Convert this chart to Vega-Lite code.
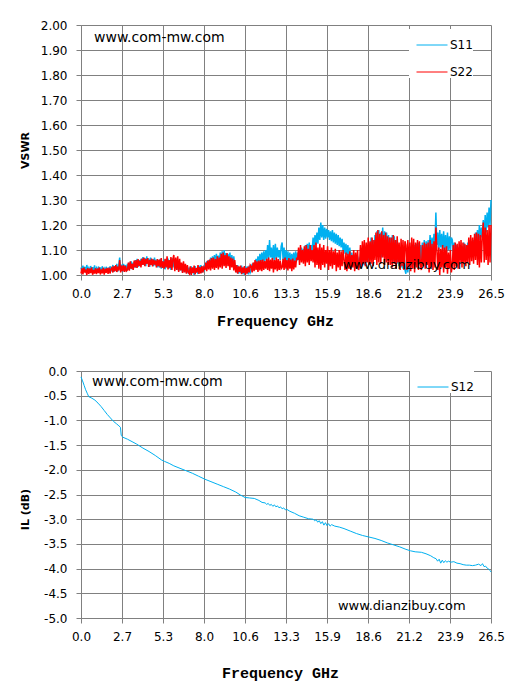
{
  "$schema": "https://vega.github.io/schema/vega-lite/v6.json",
  "background": "#ffffff",
  "padding": {"left": 19, "top": 19, "right": 5, "bottom": 5},
  "spacing": 37,
  "datasets": {
    "vswr": [
      {"f":0,"S11":1.03,"S22":1.006},{"f":0.0625,"S11":1.012,"S22":1.027},{"f":0.125,"S11":1.038,"S22":1.002},{"f":0.1875,"S11":1.015,"S22":1.03},
      {"f":0.25,"S11":1.033,"S22":1.01},{"f":0.3125,"S11":1.01,"S22":1.022},{"f":0.375,"S11":1.04,"S22":1.0},{"f":0.4375,"S11":1.018,"S22":1.028},
      {"f":0.5,"S11":1.028,"S22":1.004},{"f":0.5625,"S11":1.01,"S22":1.025},{"f":0.625,"S11":1.036,"S22":1.008},{"f":0.6875,"S11":1.014,"S22":1.03},
      {"f":0.75,"S11":1.031,"S22":1.001},{"f":0.8125,"S11":1.011,"S22":1.02},{"f":0.875,"S11":1.039,"S22":1.006},{"f":0.9375,"S11":1.016,"S22":1.027},
      {"f":1,"S11":1.027,"S22":1.003},{"f":1.0625,"S11":1.01,"S22":1.026},{"f":1.125,"S11":1.034,"S22":1.008},{"f":1.1875,"S11":1.015,"S22":1.03},
      {"f":1.25,"S11":1.03,"S22":1.002},{"f":1.3125,"S11":1.012,"S22":1.022},{"f":1.375,"S11":1.035,"S22":1.007},{"f":1.4375,"S11":1.017,"S22":1.029},
      {"f":1.5,"S11":1.026,"S22":1.001},{"f":1.5625,"S11":1.01,"S22":1.025},{"f":1.625,"S11":1.033,"S22":1.009},{"f":1.6875,"S11":1.014,"S22":1.028},
      {"f":1.75,"S11":1.029,"S22":1.004},{"f":1.8125,"S11":1.011,"S22":1.03},{"f":1.875,"S11":1.035,"S22":1.006},{"f":1.9375,"S11":1.016,"S22":1.024},
      {"f":2,"S11":1.02,"S22":1.03},{"f":2.0625,"S11":1.04,"S22":1.01},{"f":2.125,"S11":1.012,"S22":1.035},{"f":2.1875,"S11":1.036,"S22":1.015},
      {"f":2.25,"S11":1.018,"S22":1.04},{"f":2.3125,"S11":1.045,"S22":1.012},{"f":2.375,"S11":1.013,"S22":1.033},{"f":2.4375,"S11":1.038,"S22":1.018},
      {"f":2.5,"S11":1.07,"S22":1.06},{"f":2.5625,"S11":1.016,"S22":1.01},{"f":2.625,"S11":1.042,"S22":1.038},{"f":2.6875,"S11":1.012,"S22":1.014},
      {"f":2.75,"S11":1.045,"S22":1.04},{"f":2.8125,"S11":1.02,"S22":1.012},{"f":2.875,"S11":1.04,"S22":1.036},{"f":2.9375,"S11":1.014,"S22":1.016},
      {"f":3,"S11":1.045,"S22":1.02},{"f":3.0625,"S11":1.02,"S22":1.05},{"f":3.125,"S11":1.05,"S22":1.017},{"f":3.1875,"S11":1.025,"S22":1.055},
      {"f":3.25,"S11":1.055,"S22":1.025},{"f":3.3125,"S11":1.022,"S22":1.045},{"f":3.375,"S11":1.05,"S22":1.02},{"f":3.4375,"S11":1.03,"S22":1.058},
      {"f":3.5,"S11":1.06,"S22":1.03},{"f":3.5625,"S11":1.028,"S22":1.06},{"f":3.625,"S11":1.065,"S22":1.028},{"f":3.6875,"S11":1.032,"S22":1.064},
      {"f":3.75,"S11":1.06,"S22":1.035},{"f":3.8125,"S11":1.035,"S22":1.058},{"f":3.875,"S11":1.065,"S22":1.03},{"f":3.9375,"S11":1.04,"S22":1.066},
      {"f":4,"S11":1.072,"S22":1.04},{"f":4.0625,"S11":1.04,"S22":1.07},{"f":4.125,"S11":1.068,"S22":1.035},{"f":4.1875,"S11":1.035,"S22":1.064},
      {"f":4.25,"S11":1.075,"S22":1.045},{"f":4.3125,"S11":1.045,"S22":1.068},{"f":4.375,"S11":1.066,"S22":1.032},{"f":4.4375,"S11":1.032,"S22":1.06},
      {"f":4.5,"S11":1.07,"S22":1.04},{"f":4.5625,"S11":1.04,"S22":1.066},{"f":4.625,"S11":1.064,"S22":1.034},{"f":4.6875,"S11":1.035,"S22":1.062},
      {"f":4.75,"S11":1.07,"S22":1.042},{"f":4.8125,"S11":1.038,"S22":1.058},{"f":4.875,"S11":1.062,"S22":1.03},{"f":4.9375,"S11":1.03,"S22":1.064},
      {"f":5,"S11":1.06,"S22":1.035},{"f":5.0625,"S11":1.03,"S22":1.062},{"f":5.125,"S11":1.065,"S22":1.03},{"f":5.1875,"S11":1.025,"S22":1.068},
      {"f":5.25,"S11":1.055,"S22":1.028},{"f":5.3125,"S11":1.035,"S22":1.055},{"f":5.375,"S11":1.062,"S22":1.025},{"f":5.4375,"S11":1.022,"S22":1.065},
      {"f":5.5,"S11":1.058,"S22":1.03},{"f":5.5625,"S11":1.03,"S22":1.075},{"f":5.625,"S11":1.066,"S22":1.022},{"f":5.6875,"S11":1.025,"S22":1.06},
      {"f":5.75,"S11":1.06,"S22":1.028},{"f":5.8125,"S11":1.02,"S22":1.072},{"f":5.875,"S11":1.068,"S22":1.02},{"f":5.9375,"S11":1.03,"S22":1.064},
      {"f":6,"S11":1.065,"S22":1.08},{"f":6.0625,"S11":1.025,"S22":1.015},{"f":6.125,"S11":1.06,"S22":1.07},{"f":6.1875,"S11":1.02,"S22":1.02},
      {"f":6.25,"S11":1.058,"S22":1.075},{"f":6.3125,"S11":1.015,"S22":1.012},{"f":6.375,"S11":1.05,"S22":1.065},{"f":6.4375,"S11":1.018,"S22":1.018},
      {"f":6.5,"S11":1.045,"S22":1.05},{"f":6.5625,"S11":1.01,"S22":1.008},{"f":6.625,"S11":1.04,"S22":1.055},{"f":6.6875,"S11":1.012,"S22":1.01},
      {"f":6.75,"S11":1.038,"S22":1.045},{"f":6.8125,"S11":1.008,"S22":1.005},{"f":6.875,"S11":1.035,"S22":1.04},{"f":6.9375,"S11":1.005,"S22":1.01},
      {"f":7,"S11":1.03,"S22":1.005},{"f":7.0625,"S11":1.002,"S22":1.035},{"f":7.125,"S11":1.035,"S22":1.0},{"f":7.1875,"S11":1.008,"S22":1.03},
      {"f":7.25,"S11":1.028,"S22":1.008},{"f":7.3125,"S11":1.0,"S22":1.038},{"f":7.375,"S11":1.036,"S22":1.002},{"f":7.4375,"S11":1.01,"S22":1.028},
      {"f":7.5,"S11":1.025,"S22":1.01},{"f":7.5625,"S11":1.004,"S22":1.04},{"f":7.625,"S11":1.038,"S22":1.004},{"f":7.6875,"S11":1.012,"S22":1.032},
      {"f":7.75,"S11":1.04,"S22":1.006},{"f":7.8125,"S11":1.008,"S22":1.036},{"f":7.875,"S11":1.034,"S22":1.01},{"f":7.9375,"S11":1.015,"S22":1.03},
      {"f":8,"S11":1.045,"S22":1.02},{"f":8.0625,"S11":1.03,"S22":1.05},{"f":8.125,"S11":1.055,"S22":1.015},{"f":8.1875,"S11":1.032,"S22":1.058},
      {"f":8.25,"S11":1.06,"S22":1.022},{"f":8.3125,"S11":1.035,"S22":1.062},{"f":8.375,"S11":1.07,"S22":1.018},{"f":8.4375,"S11":1.04,"S22":1.068},
      {"f":8.5,"S11":1.075,"S22":1.025},{"f":8.5625,"S11":1.038,"S22":1.07},{"f":8.625,"S11":1.08,"S22":1.02},{"f":8.6875,"S11":1.045,"S22":1.064},
      {"f":8.75,"S11":1.085,"S22":1.028},{"f":8.8125,"S11":1.05,"S22":1.075},{"f":8.875,"S11":1.078,"S22":1.022},{"f":8.9375,"S11":1.042,"S22":1.07},
      {"f":9,"S11":1.09,"S22":1.03},{"f":9.0625,"S11":1.05,"S22":1.085},{"f":9.125,"S11":1.095,"S22":1.025},{"f":9.1875,"S11":1.045,"S22":1.09},
      {"f":9.25,"S11":1.1,"S22":1.035},{"f":9.3125,"S11":1.05,"S22":1.08},{"f":9.375,"S11":1.088,"S22":1.028},{"f":9.4375,"S11":1.045,"S22":1.088},
      {"f":9.5,"S11":1.085,"S22":1.035},{"f":9.5625,"S11":1.05,"S22":1.075},{"f":9.625,"S11":1.09,"S22":1.02},{"f":9.6875,"S11":1.042,"S22":1.07},
      {"f":9.75,"S11":1.08,"S22":1.03},{"f":9.8125,"S11":1.045,"S22":1.066},{"f":9.875,"S11":1.075,"S22":1.018},{"f":9.9375,"S11":1.04,"S22":1.06},
      {"f":10,"S11":1.035,"S22":1.01},{"f":10.0625,"S11":1.01,"S22":1.04},{"f":10.125,"S11":1.04,"S22":1.005},{"f":10.1875,"S11":1.005,"S22":1.035},
      {"f":10.25,"S11":1.032,"S22":1.012},{"f":10.3125,"S11":1.008,"S22":1.038},{"f":10.375,"S11":1.038,"S22":1.003},{"f":10.4375,"S11":1.003,"S22":1.03},
      {"f":10.5,"S11":1.03,"S22":1.008},{"f":10.5625,"S11":1.0,"S22":1.036},{"f":10.625,"S11":1.036,"S22":1.0},{"f":10.6875,"S11":1.006,"S22":1.028},
      {"f":10.75,"S11":1.034,"S22":1.006},{"f":10.8125,"S11":1.002,"S22":1.034},{"f":10.875,"S11":1.038,"S22":1.01},{"f":10.9375,"S11":1.01,"S22":1.04},
      {"f":11,"S11":1.02,"S22":1.035},{"f":11.0625,"S11":1.045,"S22":1.01},{"f":11.125,"S11":1.025,"S22":1.05},{"f":11.1875,"S11":1.05,"S22":1.015},
      {"f":11.25,"S11":1.03,"S22":1.06},{"f":11.3125,"S11":1.065,"S22":1.02},{"f":11.375,"S11":1.035,"S22":1.055},{"f":11.4375,"S11":1.075,"S22":1.012},
      {"f":11.5,"S11":1.04,"S22":1.058},{"f":11.5625,"S11":1.085,"S22":1.018},{"f":11.625,"S11":1.045,"S22":1.06},{"f":11.6875,"S11":1.09,"S22":1.015},
      {"f":11.75,"S11":1.05,"S22":1.062},{"f":11.8125,"S11":1.095,"S22":1.02},{"f":11.875,"S11":1.055,"S22":1.056},{"f":11.9375,"S11":1.1,"S22":1.025},
      {"f":12,"S11":1.06,"S22":1.065},{"f":12.0625,"S11":1.12,"S22":1.02},{"f":12.125,"S11":1.065,"S22":1.07},{"f":12.1875,"S11":1.14,"S22":1.015},
      {"f":12.25,"S11":1.07,"S22":1.062},{"f":12.3125,"S11":1.11,"S22":1.025},{"f":12.375,"S11":1.055,"S22":1.068},{"f":12.4375,"S11":1.12,"S22":1.01},
      {"f":12.5,"S11":1.06,"S22":1.06},{"f":12.5625,"S11":1.125,"S22":1.022},{"f":12.625,"S11":1.065,"S22":1.07},{"f":12.6875,"S11":1.11,"S22":1.015},
      {"f":12.75,"S11":1.07,"S22":1.064},{"f":12.8125,"S11":1.1,"S22":1.02},{"f":12.875,"S11":1.06,"S22":1.058},{"f":12.9375,"S11":1.115,"S22":1.025},
      {"f":13,"S11":1.13,"S22":1.03},{"f":13.0625,"S11":1.06,"S22":1.065},{"f":13.125,"S11":1.11,"S22":1.02},{"f":13.1875,"S11":1.05,"S22":1.07},
      {"f":13.25,"S11":1.1,"S22":1.025},{"f":13.3125,"S11":1.055,"S22":1.06},{"f":13.375,"S11":1.095,"S22":1.018},{"f":13.4375,"S11":1.045,"S22":1.068},
      {"f":13.5,"S11":1.09,"S22":1.025},{"f":13.5625,"S11":1.05,"S22":1.062},{"f":13.625,"S11":1.085,"S22":1.015},{"f":13.6875,"S11":1.045,"S22":1.066},
      {"f":13.75,"S11":1.09,"S22":1.022},{"f":13.8125,"S11":1.05,"S22":1.058},{"f":13.875,"S11":1.095,"S22":1.03},{"f":13.9375,"S11":1.055,"S22":1.07},
      {"f":14,"S11":1.09,"S22":1.06},{"f":14.0625,"S11":1.06,"S22":1.11},{"f":14.125,"S11":1.1,"S22":1.04},{"f":14.1875,"S11":1.065,"S22":1.12},
      {"f":14.25,"S11":1.11,"S22":1.05},{"f":14.3125,"S11":1.07,"S22":1.1},{"f":14.375,"S11":1.105,"S22":1.045},{"f":14.4375,"S11":1.075,"S22":1.115},
      {"f":14.5,"S11":1.12,"S22":1.035},{"f":14.5625,"S11":1.08,"S22":1.12},{"f":14.625,"S11":1.125,"S22":1.05},{"f":14.6875,"S11":1.085,"S22":1.105},
      {"f":14.75,"S11":1.13,"S22":1.04},{"f":14.8125,"S11":1.09,"S22":1.12},{"f":14.875,"S11":1.12,"S22":1.055},{"f":14.9375,"S11":1.095,"S22":1.1},
      {"f":15,"S11":1.15,"S22":1.05},{"f":15.0625,"S11":1.11,"S22":1.12},{"f":15.125,"S11":1.16,"S22":1.03},{"f":15.1875,"S11":1.12,"S22":1.13},
      {"f":15.25,"S11":1.17,"S22":1.04},{"f":15.3125,"S11":1.125,"S22":1.11},{"f":15.375,"S11":1.19,"S22":1.025},{"f":15.4375,"S11":1.14,"S22":1.125},
      {"f":15.5,"S11":1.21,"S22":1.02},{"f":15.5625,"S11":1.15,"S22":1.11},{"f":15.625,"S11":1.2,"S22":1.04},{"f":15.6875,"S11":1.14,"S22":1.12},
      {"f":15.75,"S11":1.19,"S22":1.03},{"f":15.8125,"S11":1.145,"S22":1.1},{"f":15.875,"S11":1.185,"S22":1.045},{"f":15.9375,"S11":1.15,"S22":1.115},
      {"f":16,"S11":1.18,"S22":1.02},{"f":16.0625,"S11":1.14,"S22":1.1},{"f":16.125,"S11":1.175,"S22":1.035},{"f":16.1875,"S11":1.135,"S22":1.11},
      {"f":16.25,"S11":1.18,"S22":1.025},{"f":16.3125,"S11":1.13,"S22":1.095},{"f":16.375,"S11":1.17,"S22":1.04},{"f":16.4375,"S11":1.125,"S22":1.105},
      {"f":16.5,"S11":1.165,"S22":1.015},{"f":16.5625,"S11":1.12,"S22":1.09},{"f":16.625,"S11":1.16,"S22":1.03},{"f":16.6875,"S11":1.115,"S22":1.1},
      {"f":16.75,"S11":1.15,"S22":1.02},{"f":16.8125,"S11":1.11,"S22":1.095},{"f":16.875,"S11":1.145,"S22":1.035},{"f":16.9375,"S11":1.1,"S22":1.1},
      {"f":17,"S11":1.13,"S22":1.06},{"f":17.0625,"S11":1.085,"S22":1.02},{"f":17.125,"S11":1.125,"S22":1.09},{"f":17.1875,"S11":1.08,"S22":1.015},
      {"f":17.25,"S11":1.12,"S22":1.085},{"f":17.3125,"S11":1.07,"S22":1.025},{"f":17.375,"S11":1.11,"S22":1.095},{"f":17.4375,"S11":1.06,"S22":1.02},
      {"f":17.5,"S11":1.09,"S22":1.08},{"f":17.5625,"S11":1.035,"S22":1.03},{"f":17.625,"S11":1.085,"S22":1.1},{"f":17.6875,"S11":1.03,"S22":1.015},
      {"f":17.75,"S11":1.08,"S22":1.09},{"f":17.8125,"S11":1.025,"S22":1.025},{"f":17.875,"S11":1.075,"S22":1.1},{"f":17.9375,"S11":1.02,"S22":1.02},
      {"f":18,"S11":1.07,"S22":1.04},{"f":18.0625,"S11":1.03,"S22":1.12},{"f":18.125,"S11":1.085,"S22":1.03},{"f":18.1875,"S11":1.035,"S22":1.135},
      {"f":18.25,"S11":1.09,"S22":1.045},{"f":18.3125,"S11":1.04,"S22":1.14},{"f":18.375,"S11":1.1,"S22":1.035},{"f":18.4375,"S11":1.05,"S22":1.13},
      {"f":18.5,"S11":1.12,"S22":1.05},{"f":18.5625,"S11":1.06,"S22":1.15},{"f":18.625,"S11":1.13,"S22":1.04},{"f":18.6875,"S11":1.065,"S22":1.135},
      {"f":18.75,"S11":1.15,"S22":1.045},{"f":18.8125,"S11":1.07,"S22":1.15},{"f":18.875,"S11":1.14,"S22":1.035},{"f":18.9375,"S11":1.075,"S22":1.14},
      {"f":19,"S11":1.16,"S22":1.06},{"f":19.0625,"S11":1.08,"S22":1.17},{"f":19.125,"S11":1.175,"S22":1.04},{"f":19.1875,"S11":1.075,"S22":1.18},
      {"f":19.25,"S11":1.18,"S22":1.05},{"f":19.3125,"S11":1.085,"S22":1.165},{"f":19.375,"S11":1.17,"S22":1.045},{"f":19.4375,"S11":1.07,"S22":1.175},
      {"f":19.5,"S11":1.19,"S22":1.07},{"f":19.5625,"S11":1.09,"S22":1.16},{"f":19.625,"S11":1.175,"S22":1.04},{"f":19.6875,"S11":1.08,"S22":1.17},
      {"f":19.75,"S11":1.17,"S22":1.05},{"f":19.8125,"S11":1.065,"S22":1.155},{"f":19.875,"S11":1.16,"S22":1.04},{"f":19.9375,"S11":1.06,"S22":1.15},
      {"f":20,"S11":1.15,"S22":1.04},{"f":20.0625,"S11":1.06,"S22":1.15},{"f":20.125,"S11":1.16,"S22":1.03},{"f":20.1875,"S11":1.055,"S22":1.16},
      {"f":20.25,"S11":1.155,"S22":1.045},{"f":20.3125,"S11":1.05,"S22":1.14},{"f":20.375,"S11":1.14,"S22":1.025},{"f":20.4375,"S11":1.045,"S22":1.155},
      {"f":20.5,"S11":1.12,"S22":1.05},{"f":20.5625,"S11":1.035,"S22":1.13},{"f":20.625,"S11":1.11,"S22":1.02},{"f":20.6875,"S11":1.03,"S22":1.145},
      {"f":20.75,"S11":1.1,"S22":1.035},{"f":20.8125,"S11":1.025,"S22":1.14},{"f":20.875,"S11":1.09,"S22":1.02},{"f":20.9375,"S11":1.02,"S22":1.135},
      {"f":21,"S11":1.005,"S22":1.12},{"f":21.0625,"S11":1.08,"S22":1.02},{"f":21.125,"S11":1.01,"S22":1.14},{"f":21.1875,"S11":1.09,"S22":1.03},
      {"f":21.25,"S11":1.02,"S22":1.13},{"f":21.3125,"S11":1.1,"S22":1.015},{"f":21.375,"S11":1.03,"S22":1.15},{"f":21.4375,"S11":1.11,"S22":1.025},
      {"f":21.5,"S11":1.04,"S22":1.145},{"f":21.5625,"S11":1.12,"S22":1.01},{"f":21.625,"S11":1.045,"S22":1.13},{"f":21.6875,"S11":1.125,"S22":1.03},
      {"f":21.75,"S11":1.05,"S22":1.14},{"f":21.8125,"S11":1.13,"S22":1.02},{"f":21.875,"S11":1.055,"S22":1.135},{"f":21.9375,"S11":1.12,"S22":1.04},
      {"f":22,"S11":1.06,"S22":1.02},{"f":22.0625,"S11":1.13,"S22":1.12},{"f":22.125,"S11":1.065,"S22":1.035},{"f":22.1875,"S11":1.14,"S22":1.13},
      {"f":22.25,"S11":1.07,"S22":1.025},{"f":22.3125,"S11":1.135,"S22":1.125},{"f":22.375,"S11":1.075,"S22":1.04},{"f":22.4375,"S11":1.14,"S22":1.13},
      {"f":22.5,"S11":1.09,"S22":1.01},{"f":22.5625,"S11":1.16,"S22":1.14},{"f":22.625,"S11":1.095,"S22":1.03},{"f":22.6875,"S11":1.15,"S22":1.125},
      {"f":22.75,"S11":1.1,"S22":1.02},{"f":22.8125,"S11":1.165,"S22":1.135},{"f":22.875,"S11":1.11,"S22":1.03},{"f":22.9375,"S11":1.25,"S22":1.19},
      {"f":23,"S11":1.12,"S22":1.1},{"f":23.0625,"S11":1.17,"S22":1.02},{"f":23.125,"S11":1.1,"S22":1.11},{"f":23.1875,"S11":1.18,"S22":1.0},
      {"f":23.25,"S11":1.11,"S22":1.105},{"f":23.3125,"S11":1.165,"S22":1.03},{"f":23.375,"S11":1.095,"S22":1.12},{"f":23.4375,"S11":1.175,"S22":1.01},
      {"f":23.5,"S11":1.105,"S22":1.11},{"f":23.5625,"S11":1.16,"S22":1.03},{"f":23.625,"S11":1.09,"S22":1.115},{"f":23.6875,"S11":1.17,"S22":1.005},
      {"f":23.75,"S11":1.1,"S22":1.09},{"f":23.8125,"S11":1.155,"S22":1.025},{"f":23.875,"S11":1.095,"S22":1.1},{"f":23.9375,"S11":1.15,"S22":1.01},
      {"f":24,"S11":1.14,"S22":1.04},{"f":24.0625,"S11":1.08,"S22":1.12},{"f":24.125,"S11":1.13,"S22":1.02},{"f":24.1875,"S11":1.07,"S22":1.13},
      {"f":24.25,"S11":1.12,"S22":1.035},{"f":24.3125,"S11":1.065,"S22":1.125},{"f":24.375,"S11":1.11,"S22":1.025},{"f":24.4375,"S11":1.06,"S22":1.135},
      {"f":24.5,"S11":1.1,"S22":1.05},{"f":24.5625,"S11":1.07,"S22":1.14},{"f":24.625,"S11":1.115,"S22":1.03},{"f":24.6875,"S11":1.075,"S22":1.13},
      {"f":24.75,"S11":1.13,"S22":1.045},{"f":24.8125,"S11":1.08,"S22":1.125},{"f":24.875,"S11":1.12,"S22":1.035},{"f":24.9375,"S11":1.09,"S22":1.12},
      {"f":25,"S11":1.13,"S22":1.05},{"f":25.0625,"S11":1.09,"S22":1.15},{"f":25.125,"S11":1.14,"S22":1.04},{"f":25.1875,"S11":1.095,"S22":1.16},
      {"f":25.25,"S11":1.135,"S22":1.055},{"f":25.3125,"S11":1.1,"S22":1.15},{"f":25.375,"S11":1.14,"S22":1.045},{"f":25.4375,"S11":1.105,"S22":1.165},
      {"f":25.5,"S11":1.17,"S22":1.06},{"f":25.5625,"S11":1.12,"S22":1.17},{"f":25.625,"S11":1.18,"S22":1.04},{"f":25.6875,"S11":1.13,"S22":1.165},
      {"f":25.75,"S11":1.2,"S22":1.03},{"f":25.8125,"S11":1.14,"S22":1.16},{"f":25.875,"S11":1.19,"S22":1.05},{"f":25.9375,"S11":1.15,"S22":1.155},
      {"f":26,"S11":1.22,"S22":1.21},{"f":26.0625,"S11":1.16,"S22":1.05},{"f":26.125,"S11":1.24,"S22":1.19},{"f":26.1875,"S11":1.17,"S22":1.06},
      {"f":26.25,"S11":1.25,"S22":1.18},{"f":26.3125,"S11":1.19,"S22":1.04},{"f":26.375,"S11":1.27,"S22":1.2},{"f":26.4375,"S11":1.2,"S22":1.05},
      {"f":26.5,"S11":1.3,"S22":1.2}
    ],
    "il": [
      {"f":0,"S12":-0.12},{"f":0.1,"S12":-0.2},{"f":0.2,"S12":-0.29},{"f":0.3,"S12":-0.38},{"f":0.4,"S12":-0.45},
      {"f":0.5,"S12":-0.52},{"f":0.7,"S12":-0.55},{"f":0.9,"S12":-0.59},{"f":1.1,"S12":-0.65},{"f":1.3,"S12":-0.72},
      {"f":1.5,"S12":-0.8},{"f":1.7,"S12":-0.88},{"f":1.9,"S12":-0.95},{"f":2.1,"S12":-1.02},{"f":2.3,"S12":-1.07},
      {"f":2.45,"S12":-1.11},{"f":2.55,"S12":-1.14},{"f":2.6,"S12":-1.3},{"f":2.7,"S12":-1.34},{"f":3.0,"S12":-1.38},
      {"f":3.3,"S12":-1.43},{"f":3.6,"S12":-1.48},{"f":4.0,"S12":-1.56},{"f":4.4,"S12":-1.63},{"f":4.8,"S12":-1.71},
      {"f":5.2,"S12":-1.8},{"f":5.4,"S12":-1.83},{"f":5.7,"S12":-1.87},{"f":6.0,"S12":-1.92},{"f":6.4,"S12":-1.97},
      {"f":6.8,"S12":-2.02},{"f":7.2,"S12":-2.07},{"f":7.6,"S12":-2.13},{"f":8.0,"S12":-2.19},{"f":8.4,"S12":-2.24},
      {"f":8.8,"S12":-2.29},{"f":9.2,"S12":-2.34},{"f":9.6,"S12":-2.39},{"f":10.0,"S12":-2.45},{"f":10.3,"S12":-2.51},
      {"f":10.6,"S12":-2.56},{"f":10.9,"S12":-2.57},{"f":11.2,"S12":-2.58},{"f":11.5,"S12":-2.62},{"f":11.7,"S12":-2.66},
      {"f":11.9,"S12":-2.67},{"f":12.0,"S12":-2.7},{"f":12.1,"S12":-2.68},{"f":12.2,"S12":-2.72},{"f":12.3,"S12":-2.7},
      {"f":12.4,"S12":-2.74},{"f":12.5,"S12":-2.71},{"f":12.6,"S12":-2.75},{"f":12.7,"S12":-2.73},{"f":12.8,"S12":-2.77},
      {"f":12.9,"S12":-2.75},{"f":13.0,"S12":-2.79},{"f":13.1,"S12":-2.77},{"f":13.2,"S12":-2.81},{"f":13.3,"S12":-2.8},
      {"f":13.5,"S12":-2.84},{"f":13.8,"S12":-2.88},{"f":14.1,"S12":-2.93},{"f":14.4,"S12":-2.96},{"f":14.7,"S12":-2.99},
      {"f":15.0,"S12":-3.0},{"f":15.1,"S12":-3.03},{"f":15.2,"S12":-3.01},{"f":15.3,"S12":-3.06},{"f":15.4,"S12":-3.03},
      {"f":15.5,"S12":-3.09},{"f":15.6,"S12":-3.05},{"f":15.7,"S12":-3.12},{"f":15.8,"S12":-3.07},{"f":15.9,"S12":-3.13},
      {"f":16.0,"S12":-3.09},{"f":16.1,"S12":-3.14},{"f":16.2,"S12":-3.11},{"f":16.4,"S12":-3.14},{"f":16.7,"S12":-3.16},
      {"f":17.0,"S12":-3.19},{"f":17.4,"S12":-3.24},{"f":17.8,"S12":-3.29},{"f":18.2,"S12":-3.33},{"f":18.6,"S12":-3.36},
      {"f":19.0,"S12":-3.39},{"f":19.4,"S12":-3.43},{"f":19.8,"S12":-3.48},{"f":20.2,"S12":-3.52},{"f":20.6,"S12":-3.56},
      {"f":21.0,"S12":-3.61},{"f":21.3,"S12":-3.64},{"f":21.6,"S12":-3.66},{"f":22.0,"S12":-3.67},{"f":22.3,"S12":-3.7},
      {"f":22.6,"S12":-3.74},{"f":22.8,"S12":-3.78},{"f":22.95,"S12":-3.8},{"f":23.05,"S12":-3.85},{"f":23.15,"S12":-3.81},
      {"f":23.25,"S12":-3.89},{"f":23.35,"S12":-3.83},{"f":23.45,"S12":-3.88},{"f":23.55,"S12":-3.84},{"f":23.65,"S12":-3.87},
      {"f":23.75,"S12":-3.85},{"f":23.9,"S12":-3.87},{"f":24.1,"S12":-3.86},{"f":24.3,"S12":-3.89},{"f":24.5,"S12":-3.9},
      {"f":24.7,"S12":-3.92},{"f":24.9,"S12":-3.93},{"f":25.1,"S12":-3.93},{"f":25.3,"S12":-3.94},{"f":25.5,"S12":-3.93},
      {"f":25.7,"S12":-3.91},{"f":25.85,"S12":-3.94},{"f":25.95,"S12":-3.9},{"f":26.05,"S12":-3.96},{"f":26.15,"S12":-3.95},
      {"f":26.25,"S12":-3.99},{"f":26.35,"S12":-4.01},{"f":26.45,"S12":-4.04},{"f":26.5,"S12":-4.07}
    ]
  },
  "config": {
    "view": {"stroke": null},
    "axis": {
      "grid": true, "gridColor": "#808080", "gridOpacity": 1, "gridWidth": 1,
      "domainColor": "#808080", "domainWidth": 1, "tickColor": "#808080", "tickSize": 5, "tickWidth": 1,
      "labelFont": "DejaVu Sans", "labelFontSize": 12, "labelColor": "#000000", "titleColor": "#000000"
    },
    "axisX": {"labelFlush": false, "labelPadding": 8, "titleFont": "Liberation Mono", "titleFontSize": 15, "titleFontWeight": "bold"},
    "axisY": {"labelPadding": 9, "tickCount": 11, "titleFont": "DejaVu Sans", "titleFontSize": 11, "titleFontWeight": "bold"},
    "legend": {
      "orient": "none", "fillColor": "#ffffff", "padding": 0,
      "symbolType": "stroke", "symbolSize": 961, "symbolStrokeWidth": 1, "symbolOffset": 7,
      "labelFont": "DejaVu Sans", "labelFontSize": 12, "labelColor": "#000000", "labelOffset": 2, "rowPadding": 5
    }
  },
  "resolve": {"scale": {"color": "independent"}, "legend": {"color": "independent"}},
  "vconcat": [
    {
      "width": 410,
      "height": 250,
      "layer": [
        {
          "data": {"name": "vswr"},
          "transform": [{"fold": ["S11", "S22"], "as": ["trace", "vswr"]}],
          "mark": {"type": "line", "strokeWidth": 1.5},
          "encoding": {
            "x": {
              "field": "f", "type": "quantitative",
              "scale": {"domain": [0, 26.5], "nice": false},
              "axis": {
                "title": "Frequency GHz",
                "values": [0, 2.65, 5.3, 7.95, 10.6, 13.25, 15.9, 18.55, 21.2, 23.85, 26.5],
                "labelExpr": "['0.0','2.7','5.3','8.0','10.6','13.3','15.9','18.6','21.2','23.9','26.5'][round(datum.value / 2.65)]",
                "titlePadding": 14, "titleX": 194
              }
            },
            "y": {
              "field": "vswr", "type": "quantitative",
              "scale": {"domain": [1, 2], "nice": false, "zero": false},
              "axis": {
                "title": "VSWR",
                "values": [1, 1.1, 1.2, 1.3, 1.4, 1.5, 1.6, 1.7, 1.8, 1.9, 2],
                "tickCount": 11,
                "format": ".2f", "titlePadding": 10
              }
            },
            "color": {
              "field": "trace", "type": "nominal",
              "scale": {"domain": ["S11", "S22"], "range": ["#00B0F0", "#FF0000"]},
              "legend": {"title": null, "legendX": 328, "legendY": 4, "labelExpr": "datum.label + '  '"}
            }
          }
        },
        {
          "data": {"values": [{"label": "www.com-mw.com"}]},
          "mark": {"type": "text", "align": "left", "baseline": "middle", "font": "DejaVu Sans", "fontSize": 14, "color": "#000000"},
          "encoding": {
            "x": {"datum": 0.84, "type": "quantitative"},
            "y": {"datum": 1.948, "type": "quantitative"},
            "text": {"field": "label"}
          }
        },
        {
          "data": {"values": [{"label": "www.dianzibuy.com"}]},
          "mark": {"type": "text", "align": "left", "baseline": "middle", "font": "DejaVu Sans", "fontSize": 13, "color": "#000000"},
          "encoding": {
            "x": {"datum": 16.93, "type": "quantitative"},
            "y": {"datum": 1.04, "type": "quantitative"},
            "text": {"field": "label"}
          }
        }
      ]
    },
    {
      "width": 410,
      "height": 247,
      "layer": [
        {
          "data": {"name": "il"},
          "transform": [{"fold": ["S12"], "as": ["trace", "il"]}],
          "mark": {"type": "line", "strokeWidth": 1},
          "encoding": {
            "x": {
              "field": "f", "type": "quantitative",
              "scale": {"domain": [0, 26.5], "nice": false},
              "axis": {
                "title": "Frequency GHz",
                "values": [0, 2.65, 5.3, 7.95, 10.6, 13.25, 15.9, 18.55, 21.2, 23.85, 26.5],
                "labelExpr": "['0.0','2.7','5.3','8.0','10.6','13.3','15.9','18.6','21.2','23.9','26.5'][round(datum.value / 2.65)]",
                "titlePadding": 23, "titleX": 199
              }
            },
            "y": {
              "field": "il", "type": "quantitative",
              "scale": {"domain": [-5, 0], "nice": false, "zero": false},
              "axis": {
                "title": "IL (dB)",
                "values": [-5, -4.5, -4, -3.5, -3, -2.5, -2, -1.5, -1, -0.5, 0],
                "tickCount": 11,
                "labelExpr": "replace(format(datum.value, '.1f'), '\u2212', '-')",
                "titlePadding": 13.4, "titleY": 138
              }
            },
            "color": {
              "field": "trace", "type": "nominal",
              "scale": {"domain": ["S12"], "range": ["#00B0F0"]},
              "legend": {"title": null, "legendX": 329, "legendY": 0, "labelExpr": "datum.label + '  '"}
            }
          }
        },
        {
          "data": {"values": [{"label": "www.com-mw.com"}]},
          "mark": {"type": "text", "align": "left", "baseline": "middle", "font": "DejaVu Sans", "fontSize": 14, "color": "#000000"},
          "encoding": {
            "x": {"datum": 0.71, "type": "quantitative"},
            "y": {"datum": -0.217, "type": "quantitative"},
            "text": {"field": "label"}
          }
        },
        {
          "data": {"values": [{"label": "www.dianzibuy.com"}]},
          "mark": {"type": "text", "align": "left", "baseline": "middle", "font": "DejaVu Sans", "fontSize": 13, "color": "#000000"},
          "encoding": {
            "x": {"datum": 16.61, "type": "quantitative"},
            "y": {"datum": -4.75, "type": "quantitative"},
            "text": {"field": "label"}
          }
        }
      ]
    }
  ]
}
